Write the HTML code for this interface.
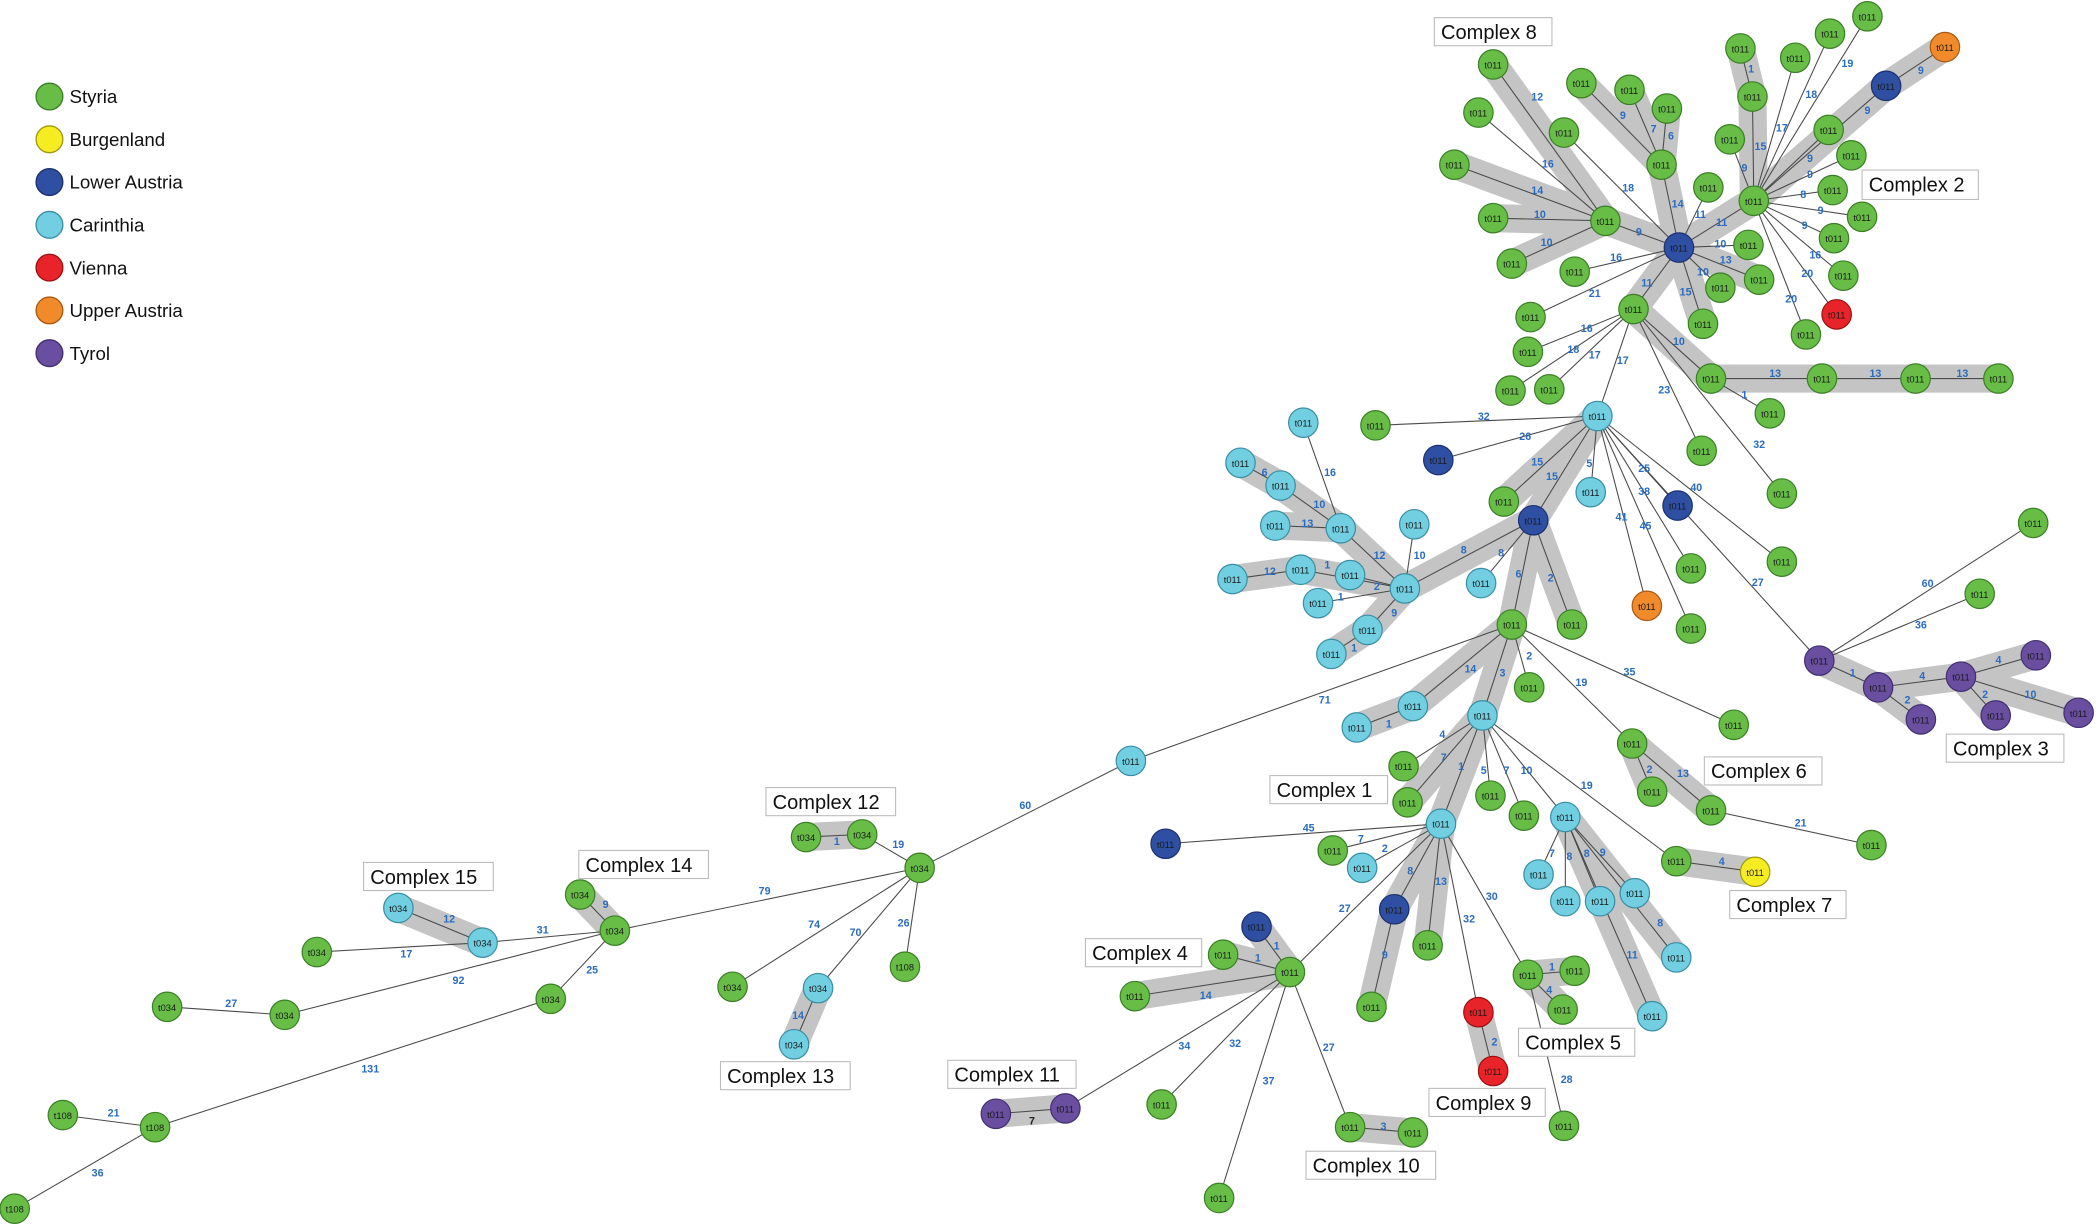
<!DOCTYPE html>
<html><head><meta charset="utf-8"><style>
html,body{margin:0;padding:0;background:#fff}
svg{display:block}
.e line{stroke:#4a4a4a;stroke-width:0.8}
.bd line{stroke:#c4c4c4;stroke-width:21;stroke-linecap:round}
.l text{fill:#2a6cc0;font:bold 8px "Liberation Sans",sans-serif;text-anchor:middle}
.n circle{r:11;stroke-width:0.9}
.n text{font:7px "Liberation Sans",sans-serif;text-anchor:middle;fill:#1a1a1a}
.g{fill:#67bd45;stroke:#3b7f26}.c{fill:#71cfe1;stroke:#3a8ea3}.b{fill:#2f4fa2;stroke:#1d3070}
.r{fill:#e8242a;stroke:#9a1010}.o{fill:#f08a2a;stroke:#a85a10}.y{fill:#f5ec22;stroke:#a09a10}.p{fill:#6a4ea0;stroke:#403070}
.bx rect{fill:#fff;stroke:#bbb;stroke-width:0.8}
.bx text{font:15px "Liberation Sans",sans-serif;fill:#111}
.lg text{font:14px "Liberation Sans",sans-serif;fill:#111}
</style></head><body>
<svg width="2096" height="1225" viewBox="0 0 1568 916" xmlns="http://www.w3.org/2000/svg">
<g class="lg">
<circle cx="37" cy="72" r="10" class="g"/><text x="52" y="77">Styria</text>
<circle cx="37" cy="104" r="10" class="y"/><text x="52" y="109">Burgenland</text>
<circle cx="37" cy="136" r="10" class="b"/><text x="52" y="141">Lower Austria</text>
<circle cx="37" cy="168" r="10" class="c"/><text x="52" y="173">Carinthia</text>
<circle cx="37" cy="200" r="10" class="r"/><text x="52" y="205">Vienna</text>
<circle cx="37" cy="232" r="10" class="o"/><text x="52" y="237">Upper Austria</text>
<circle cx="37" cy="264" r="10" class="p"/><text x="52" y="269">Tyrol</text>
</g>
<g class="bd">
<line x1="1117" y1="48" x2="1201" y2="165"/><line x1="1088" y1="123" x2="1201" y2="165"/><line x1="1117" y1="163" x2="1201" y2="165"/><line x1="1131" y1="197" x2="1201" y2="165"/>
<line x1="1201" y1="165" x2="1256" y2="185"/><line x1="1183" y1="62" x2="1243" y2="123"/><line x1="1219" y1="67" x2="1243" y2="123"/><line x1="1247" y1="81" x2="1243" y2="123"/><line x1="1243" y1="123" x2="1256" y2="185"/>
<line x1="1256" y1="185" x2="1312" y2="150"/><line x1="1302" y1="36" x2="1311" y2="72"/><line x1="1311" y1="72" x2="1312" y2="150"/><line x1="1455" y1="35" x2="1411" y2="64"/><line x1="1411" y1="64" x2="1312" y2="150"/>
<line x1="1256" y1="185" x2="1316" y2="209"/><line x1="1256" y1="185" x2="1274" y2="242"/><line x1="1256" y1="185" x2="1222" y2="231"/>
<line x1="1222" y1="231" x2="1280" y2="283"/><line x1="1280" y1="283" x2="1495" y2="283"/>
<line x1="1195" y1="311" x2="1147" y2="389"/><line x1="1195" y1="311" x2="1125" y2="375"/>
<line x1="928" y1="346" x2="958" y2="363"/><line x1="958" y1="363" x2="1003" y2="395"/><line x1="954" y1="393" x2="1003" y2="395"/><line x1="1003" y1="395" x2="1051" y2="440"/>
<line x1="922" y1="433" x2="973" y2="426"/><line x1="973" y1="426" x2="1051" y2="440"/><line x1="996" y1="489" x2="1023" y2="471"/><line x1="1023" y1="471" x2="1051" y2="440"/>
<line x1="1051" y1="440" x2="1147" y2="389"/><line x1="1147" y1="389" x2="1131" y2="467"/><line x1="1147" y1="389" x2="1176" y2="467"/>
<line x1="1131" y1="467" x2="1109" y2="535"/><line x1="1131" y1="467" x2="1057" y2="528"/><line x1="1015" y1="544" x2="1057" y2="528"/>
<line x1="1109" y1="535" x2="1078" y2="616"/><line x1="1109" y1="535" x2="1053" y2="600"/>
<line x1="1221" y1="556" x2="1236" y2="592"/><line x1="1221" y1="556" x2="1280" y2="606"/>
<line x1="1254" y1="644" x2="1313" y2="652"/>
<line x1="1171" y1="611" x2="1254" y2="716"/><line x1="1171" y1="611" x2="1236" y2="760"/>
<line x1="1078" y1="616" x2="1043" y2="680"/><line x1="1043" y1="680" x2="1026" y2="753"/><line x1="1078" y1="616" x2="1068" y2="707"/>
<line x1="1106" y1="757" x2="1117" y2="801"/><line x1="1178" y1="726" x2="1143" y2="729"/><line x1="1169" y1="755" x2="1143" y2="729"/>
<line x1="940" y1="693" x2="965" y2="727"/><line x1="915" y1="714" x2="965" y2="727"/><line x1="849" y1="745" x2="965" y2="727"/>
<line x1="1010" y1="843" x2="1057" y2="847"/><line x1="745" y1="833" x2="797" y2="829"/>
<line x1="603" y1="626" x2="645" y2="624"/><line x1="612" y1="739" x2="594" y2="781"/><line x1="434" y1="669" x2="460" y2="696"/><line x1="298" y1="679" x2="361" y2="705"/>
<line x1="1361" y1="494" x2="1405" y2="514"/><line x1="1405" y1="514" x2="1467" y2="506"/><line x1="1437" y1="538" x2="1405" y2="514"/><line x1="1467" y1="506" x2="1523" y2="490"/><line x1="1493" y1="535" x2="1467" y2="506"/><line x1="1555" y1="533" x2="1467" y2="506"/>
</g>
<g class="e">
<line x1="1117" y1="48" x2="1201" y2="165"/><line x1="1106" y1="84" x2="1201" y2="165"/><line x1="1088" y1="123" x2="1201" y2="165"/><line x1="1117" y1="163" x2="1201" y2="165"/><line x1="1131" y1="197" x2="1201" y2="165"/>
<line x1="1170" y1="99" x2="1256" y2="185"/><line x1="1183" y1="62" x2="1243" y2="123"/><line x1="1219" y1="67" x2="1243" y2="123"/><line x1="1247" y1="81" x2="1243" y2="123"/><line x1="1243" y1="123" x2="1256" y2="185"/>
<line x1="1201" y1="165" x2="1256" y2="185"/><line x1="1178" y1="203" x2="1256" y2="185"/><line x1="1145" y1="237" x2="1256" y2="185"/><line x1="1278" y1="140" x2="1256" y2="185"/><line x1="1308" y1="183" x2="1256" y2="185"/><line x1="1287" y1="215" x2="1256" y2="185"/><line x1="1316" y1="209" x2="1256" y2="185"/><line x1="1274" y1="242" x2="1256" y2="185"/><line x1="1222" y1="231" x2="1256" y2="185"/><line x1="1312" y1="150" x2="1256" y2="185"/>
<line x1="1302" y1="36" x2="1311" y2="72"/><line x1="1311" y1="72" x2="1312" y2="150"/><line x1="1343" y1="43" x2="1312" y2="150"/><line x1="1369" y1="25" x2="1312" y2="150"/><line x1="1397" y1="12" x2="1312" y2="150"/><line x1="1455" y1="35" x2="1411" y2="64"/><line x1="1411" y1="64" x2="1312" y2="150"/>
<line x1="1368" y1="97" x2="1312" y2="150"/><line x1="1385" y1="116" x2="1312" y2="150"/><line x1="1371" y1="142" x2="1312" y2="150"/><line x1="1393" y1="162" x2="1312" y2="150"/><line x1="1372" y1="178" x2="1312" y2="150"/><line x1="1379" y1="206" x2="1312" y2="150"/><line x1="1374" y1="235" x2="1312" y2="150"/><line x1="1351" y1="250" x2="1312" y2="150"/><line x1="1294" y1="104" x2="1312" y2="150"/>
<line x1="1222" y1="231" x2="1280" y2="283"/><line x1="1280" y1="283" x2="1495" y2="283"/><line x1="1324" y1="309" x2="1280" y2="283"/><line x1="1333" y1="369" x2="1222" y2="231"/><line x1="1273" y1="337" x2="1222" y2="231"/><line x1="1195" y1="311" x2="1222" y2="231"/><line x1="1143" y1="263" x2="1222" y2="231"/><line x1="1130" y1="292" x2="1222" y2="231"/><line x1="1159" y1="291" x2="1222" y2="231"/>
<line x1="1029" y1="318" x2="1195" y2="311"/><line x1="1076" y1="344" x2="1195" y2="311"/><line x1="1147" y1="389" x2="1195" y2="311"/><line x1="1125" y1="375" x2="1195" y2="311"/><line x1="1190" y1="368" x2="1195" y2="311"/><line x1="1255" y1="378" x2="1195" y2="311"/><line x1="1265" y1="425" x2="1195" y2="311"/><line x1="1232" y1="453" x2="1195" y2="311"/><line x1="1265" y1="470" x2="1195" y2="311"/><line x1="1333" y1="420" x2="1195" y2="311"/><line x1="1361" y1="494" x2="1195" y2="311"/>
<line x1="975" y1="316" x2="1003" y2="395"/><line x1="928" y1="346" x2="958" y2="363"/><line x1="958" y1="363" x2="1003" y2="395"/><line x1="954" y1="393" x2="1003" y2="395"/><line x1="1003" y1="395" x2="1051" y2="440"/><line x1="1058" y1="392" x2="1051" y2="440"/>
<line x1="922" y1="433" x2="973" y2="426"/><line x1="973" y1="426" x2="1051" y2="440"/><line x1="1010" y1="430" x2="1051" y2="440"/><line x1="986" y1="451" x2="1051" y2="440"/><line x1="1023" y1="471" x2="1051" y2="440"/><line x1="996" y1="489" x2="1023" y2="471"/>
<line x1="1051" y1="440" x2="1147" y2="389"/><line x1="1108" y1="436" x2="1147" y2="389"/><line x1="1147" y1="389" x2="1131" y2="467"/><line x1="1176" y1="467" x2="1147" y2="389"/>
<line x1="1131" y1="467" x2="1109" y2="535"/><line x1="1144" y1="514" x2="1131" y2="467"/><line x1="1297" y1="542" x2="1131" y2="467"/><line x1="1221" y1="556" x2="1131" y2="467"/><line x1="1221" y1="556" x2="1236" y2="592"/><line x1="1280" y1="606" x2="1221" y2="556"/><line x1="1400" y1="632" x2="1280" y2="606"/>
<line x1="846" y1="569" x2="1131" y2="467"/><line x1="1057" y1="528" x2="1131" y2="467"/><line x1="1015" y1="544" x2="1057" y2="528"/>
<line x1="1109" y1="535" x2="1078" y2="616"/><line x1="1050" y1="573" x2="1109" y2="535"/><line x1="1053" y1="600" x2="1109" y2="535"/><line x1="1115" y1="595" x2="1109" y2="535"/><line x1="1140" y1="610" x2="1109" y2="535"/><line x1="1171" y1="611" x2="1109" y2="535"/><line x1="1254" y1="644" x2="1109" y2="535"/><line x1="1254" y1="644" x2="1313" y2="652"/>
<line x1="1171" y1="611" x2="1151" y2="654"/><line x1="1171" y1="611" x2="1171" y2="674"/><line x1="1171" y1="611" x2="1197" y2="674"/><line x1="1171" y1="611" x2="1223" y2="668"/><line x1="1171" y1="611" x2="1254" y2="716"/><line x1="1171" y1="611" x2="1236" y2="760"/>
<line x1="872" y1="631" x2="1078" y2="616"/><line x1="997" y1="636" x2="1078" y2="616"/><line x1="1019" y1="649" x2="1078" y2="616"/><line x1="1043" y1="680" x2="1078" y2="616"/><line x1="1068" y1="707" x2="1078" y2="616"/><line x1="1026" y1="753" x2="1043" y2="680"/><line x1="1106" y1="757" x2="1078" y2="616"/><line x1="1106" y1="757" x2="1117" y2="801"/><line x1="1143" y1="729" x2="1078" y2="616"/><line x1="1178" y1="726" x2="1143" y2="729"/><line x1="1169" y1="755" x2="1143" y2="729"/><line x1="1170" y1="842" x2="1143" y2="729"/>
<line x1="965" y1="727" x2="1078" y2="616"/><line x1="940" y1="693" x2="965" y2="727"/><line x1="915" y1="714" x2="965" y2="727"/><line x1="849" y1="745" x2="965" y2="727"/><line x1="869" y1="826" x2="965" y2="727"/><line x1="797" y1="829" x2="965" y2="727"/><line x1="912" y1="896" x2="965" y2="727"/><line x1="1010" y1="843" x2="965" y2="727"/><line x1="1010" y1="843" x2="1057" y2="847"/><line x1="745" y1="833" x2="797" y2="829"/>
<line x1="846" y1="569" x2="688" y2="649"/><line x1="603" y1="626" x2="645" y2="624"/><line x1="645" y1="624" x2="688" y2="649"/><line x1="548" y1="738" x2="688" y2="649"/><line x1="612" y1="739" x2="688" y2="649"/><line x1="612" y1="739" x2="594" y2="781"/><line x1="677" y1="723" x2="688" y2="649"/><line x1="460" y1="696" x2="688" y2="649"/>
<line x1="434" y1="669" x2="460" y2="696"/><line x1="298" y1="679" x2="361" y2="705"/><line x1="361" y1="705" x2="460" y2="696"/><line x1="237" y1="712" x2="361" y2="705"/><line x1="213" y1="759" x2="460" y2="696"/><line x1="125" y1="753" x2="213" y2="759"/><line x1="412" y1="747" x2="460" y2="696"/><line x1="116" y1="843" x2="412" y2="747"/><line x1="47" y1="834" x2="116" y2="843"/><line x1="11" y1="904" x2="116" y2="843"/>
<line x1="1361" y1="494" x2="1521" y2="391"/><line x1="1361" y1="494" x2="1481" y2="444"/><line x1="1361" y1="494" x2="1405" y2="514"/><line x1="1405" y1="514" x2="1467" y2="506"/><line x1="1437" y1="538" x2="1405" y2="514"/><line x1="1467" y1="506" x2="1523" y2="490"/><line x1="1493" y1="535" x2="1467" y2="506"/><line x1="1555" y1="533" x2="1467" y2="506"/>
</g>
<g class="l">
<text x="1150" y="75">12</text><text x="1158" y="125">16</text><text x="1150" y="145">14</text><text x="1152" y="163">10</text><text x="1157" y="184">10</text>
<text x="1218" y="143">18</text><text x="1214" y="89">9</text><text x="1237" y="99">7</text><text x="1250" y="104">6</text><text x="1255" y="155">14</text><text x="1226" y="176">9</text>
<text x="1209" y="195">16</text><text x="1193" y="222">21</text><text x="1272" y="163">11</text><text x="1287" y="185">10</text><text x="1274" y="206">10</text><text x="1291" y="197">13</text><text x="1261" y="221">15</text><text x="1232" y="214">11</text><text x="1288" y="169">11</text>
<text x="1310" y="54">1</text><text x="1317" y="112">15</text><text x="1333" y="98">17</text><text x="1355" y="73">18</text><text x="1382" y="50">19</text><text x="1437" y="55">9</text><text x="1397" y="85">9</text>
<text x="1305" y="128">9</text><text x="1354" y="121">9</text><text x="1354" y="133">9</text><text x="1349" y="148">8</text><text x="1362" y="160">9</text><text x="1350" y="171">9</text><text x="1358" y="193">16</text><text x="1352" y="207">20</text><text x="1340" y="226">20</text>
<text x="1256" y="258">10</text><text x="1328" y="282">13</text><text x="1403" y="282">13</text><text x="1468" y="282">13</text><text x="1305" y="298">1</text><text x="1316" y="335">32</text><text x="1245" y="294">23</text><text x="1214" y="272">17</text><text x="1187" y="248">16</text><text x="1177" y="264">18</text><text x="1193" y="268">17</text>
<text x="1110" y="314">32</text><text x="1141" y="329">26</text><text x="1150" y="348">15</text><text x="1161" y="359">15</text><text x="1189" y="349">5</text><text x="1230" y="353">25</text><text x="1230" y="370">38</text><text x="1213" y="389">41</text><text x="1231" y="396">45</text><text x="1269" y="367">40</text><text x="1315" y="438">27</text>
<text x="995" y="356">16</text><text x="946" y="356">6</text><text x="987" y="380">10</text><text x="978" y="394">13</text><text x="1032" y="418">12</text><text x="1062" y="418">10</text><text x="950" y="430">12</text><text x="993" y="425">1</text><text x="1030" y="441">2</text><text x="1003" y="449">1</text><text x="1043" y="461">9</text><text x="1013" y="487">1</text>
<text x="1095" y="414">8</text><text x="1123" y="416">8</text><text x="1136" y="432">6</text><text x="1160" y="435">2</text><text x="1124" y="506">3</text><text x="1144" y="493">2</text><text x="1219" y="505">35</text><text x="1183" y="513">19</text><text x="1234" y="578">2</text><text x="1259" y="581">13</text><text x="1347" y="618">21</text>
<text x="991" y="526">71</text><text x="1100" y="503">14</text><text x="1039" y="544">1</text><text x="1079" y="552">4</text><text x="1080" y="569">7</text><text x="1093" y="576">1</text><text x="1110" y="579">5</text><text x="1127" y="579">7</text><text x="1142" y="579">10</text><text x="1187" y="590">19</text><text x="1288" y="647">4</text>
<text x="1161" y="641">7</text><text x="1174" y="643">8</text><text x="1187" y="641">8</text><text x="1199" y="640">9</text><text x="1242" y="693">8</text><text x="1221" y="717">11</text>
<text x="979" y="622">45</text><text x="1018" y="630">7</text><text x="1036" y="637">2</text><text x="1055" y="654">8</text><text x="1078" y="662">13</text><text x="1036" y="717">9</text><text x="1099" y="690">32</text><text x="1118" y="782">2</text><text x="1116" y="673">30</text><text x="1161" y="726">1</text><text x="1159" y="743">4</text><text x="1172" y="810">28</text>
<text x="1006" y="682">27</text><text x="955" y="710">1</text><text x="941" y="719">1</text><text x="902" y="747">14</text><text x="886" y="785">34</text><text x="924" y="783">32</text><text x="949" y="811">37</text><text x="994" y="786">27</text><text x="1035" y="845">3</text><text x="772" y="841" style="fill:#222">7</text>
<text x="767" y="605">60</text><text x="626" y="632">1</text><text x="672" y="634">19</text><text x="609" y="694">74</text><text x="640" y="700">70</text><text x="597" y="762">14</text><text x="676" y="693">26</text><text x="572" y="669">79</text>
<text x="453" y="679">9</text><text x="336" y="690">12</text><text x="406" y="698">31</text><text x="304" y="716">17</text><text x="343" y="736">92</text><text x="173" y="753">27</text><text x="443" y="728">25</text><text x="277" y="802">131</text><text x="85" y="835">21</text><text x="73" y="880">36</text>
<text x="1442" y="439">60</text><text x="1437" y="470">36</text><text x="1386" y="506">1</text><text x="1438" y="508">4</text><text x="1427" y="526">2</text><text x="1495" y="496">4</text><text x="1485" y="522">2</text><text x="1519" y="522">10</text>
</g>
<g class="n">
<circle cx="1117" cy="48" class="g"/><circle cx="1106" cy="84" class="g"/><circle cx="1088" cy="123" class="g"/><circle cx="1117" cy="163" class="g"/><circle cx="1131" cy="197" class="g"/><circle cx="1170" cy="99" class="g"/><circle cx="1183" cy="62" class="g"/><circle cx="1219" cy="67" class="g"/><circle cx="1247" cy="81" class="g"/><circle cx="1243" cy="123" class="g"/><circle cx="1201" cy="165" class="g"/><circle cx="1178" cy="203" class="g"/><circle cx="1145" cy="237" class="g"/><circle cx="1278" cy="140" class="g"/><circle cx="1308" cy="183" class="g"/><circle cx="1287" cy="215" class="g"/><circle cx="1316" cy="209" class="g"/><circle cx="1274" cy="242" class="g"/><circle cx="1222" cy="231" class="g"/><circle cx="1256" cy="185" class="b"/>
<circle cx="1302" cy="36" class="g"/><circle cx="1311" cy="72" class="g"/><circle cx="1343" cy="43" class="g"/><circle cx="1369" cy="25" class="g"/><circle cx="1397" cy="12" class="g"/><circle cx="1455" cy="35" class="o"/><circle cx="1411" cy="64" class="b"/><circle cx="1368" cy="97" class="g"/><circle cx="1385" cy="116" class="g"/><circle cx="1371" cy="142" class="g"/><circle cx="1393" cy="162" class="g"/><circle cx="1372" cy="178" class="g"/><circle cx="1379" cy="206" class="g"/><circle cx="1374" cy="235" class="r"/><circle cx="1351" cy="250" class="g"/><circle cx="1294" cy="104" class="g"/><circle cx="1312" cy="150" class="g"/>
<circle cx="1280" cy="283" class="g"/><circle cx="1363" cy="283" class="g"/><circle cx="1433" cy="283" class="g"/><circle cx="1495" cy="283" class="g"/><circle cx="1324" cy="309" class="g"/><circle cx="1333" cy="369" class="g"/><circle cx="1273" cy="337" class="g"/><circle cx="1143" cy="263" class="g"/><circle cx="1130" cy="292" class="g"/><circle cx="1159" cy="291" class="g"/>
<circle cx="1029" cy="318" class="g"/><circle cx="1076" cy="344" class="b"/><circle cx="1125" cy="375" class="g"/><circle cx="1190" cy="368" class="c"/><circle cx="1255" cy="378" class="b"/><circle cx="1265" cy="425" class="g"/><circle cx="1232" cy="453" class="o"/><circle cx="1265" cy="470" class="g"/><circle cx="1333" cy="420" class="g"/><circle cx="1195" cy="311" class="c"/>
<circle cx="975" cy="316" class="c"/><circle cx="928" cy="346" class="c"/><circle cx="958" cy="363" class="c"/><circle cx="954" cy="393" class="c"/><circle cx="1003" cy="395" class="c"/><circle cx="1058" cy="392" class="c"/><circle cx="922" cy="433" class="c"/><circle cx="973" cy="426" class="c"/><circle cx="1010" cy="430" class="c"/><circle cx="986" cy="451" class="c"/><circle cx="1023" cy="471" class="c"/><circle cx="996" cy="489" class="c"/><circle cx="1051" cy="440" class="c"/><circle cx="1108" cy="436" class="c"/><circle cx="1147" cy="389" class="b"/><circle cx="1176" cy="467" class="g"/><circle cx="1131" cy="467" class="g"/>
<circle cx="1144" cy="514" class="g"/><circle cx="1297" cy="542" class="g"/><circle cx="1221" cy="556" class="g"/><circle cx="1236" cy="592" class="g"/><circle cx="1280" cy="606" class="g"/><circle cx="1400" cy="632" class="g"/><circle cx="846" cy="569" class="c"/><circle cx="1057" cy="528" class="c"/><circle cx="1015" cy="544" class="c"/><circle cx="1109" cy="535" class="c"/>
<circle cx="1050" cy="573" class="g"/><circle cx="1053" cy="600" class="g"/><circle cx="1115" cy="595" class="g"/><circle cx="1140" cy="610" class="g"/><circle cx="1254" cy="644" class="g"/><circle cx="1313" cy="652" class="y"/><circle cx="1171" cy="611" class="c"/><circle cx="1151" cy="654" class="c"/><circle cx="1171" cy="674" class="c"/><circle cx="1197" cy="674" class="c"/><circle cx="1223" cy="668" class="c"/><circle cx="1254" cy="716" class="c"/><circle cx="1236" cy="760" class="c"/>
<circle cx="872" cy="631" class="b"/><circle cx="997" cy="636" class="g"/><circle cx="1019" cy="649" class="c"/><circle cx="1043" cy="680" class="b"/><circle cx="1068" cy="707" class="g"/><circle cx="1026" cy="753" class="g"/><circle cx="1106" cy="757" class="r"/><circle cx="1117" cy="801" class="r"/><circle cx="1143" cy="729" class="g"/><circle cx="1178" cy="726" class="g"/><circle cx="1169" cy="755" class="g"/><circle cx="1170" cy="842" class="g"/><circle cx="1078" cy="616" class="c"/>
<circle cx="940" cy="693" class="b"/><circle cx="915" cy="714" class="g"/><circle cx="849" cy="745" class="g"/><circle cx="869" cy="826" class="g"/><circle cx="912" cy="896" class="g"/><circle cx="1010" cy="843" class="g"/><circle cx="1057" cy="847" class="g"/><circle cx="965" cy="727" class="g"/><circle cx="745" cy="833" class="p"/><circle cx="797" cy="829" class="p"/>
<circle cx="1361" cy="494" class="p"/><circle cx="1521" cy="391" class="g"/><circle cx="1481" cy="444" class="g"/><circle cx="1405" cy="514" class="p"/><circle cx="1467" cy="506" class="p"/><circle cx="1437" cy="538" class="p"/><circle cx="1523" cy="490" class="p"/><circle cx="1493" cy="535" class="p"/><circle cx="1555" cy="533" class="p"/>
<circle cx="688" cy="649" class="g"/><circle cx="603" cy="626" class="g"/><circle cx="645" cy="624" class="g"/><circle cx="548" cy="738" class="g"/><circle cx="612" cy="739" class="c"/><circle cx="594" cy="781" class="c"/><circle cx="677" cy="723" class="g"/><circle cx="460" cy="696" class="g"/><circle cx="434" cy="669" class="g"/><circle cx="298" cy="679" class="c"/><circle cx="361" cy="705" class="c"/><circle cx="237" cy="712" class="g"/><circle cx="213" cy="759" class="g"/><circle cx="125" cy="753" class="g"/><circle cx="412" cy="747" class="g"/><circle cx="116" cy="843" class="g"/><circle cx="47" cy="834" class="g"/><circle cx="11" cy="904" class="g"/>
</g>
<g class="n">
<text x="1117" y="51">t011</text><text x="1106" y="87">t011</text><text x="1088" y="126">t011</text><text x="1117" y="166">t011</text><text x="1131" y="200">t011</text><text x="1170" y="102">t011</text><text x="1183" y="65">t011</text><text x="1219" y="70">t011</text><text x="1247" y="84">t011</text><text x="1243" y="126">t011</text><text x="1201" y="168">t011</text><text x="1178" y="206">t011</text><text x="1145" y="240">t011</text><text x="1278" y="143">t011</text><text x="1308" y="186">t011</text><text x="1287" y="218">t011</text><text x="1316" y="212">t011</text><text x="1274" y="245">t011</text><text x="1222" y="234">t011</text><text x="1256" y="188">t011</text>
<text x="1302" y="39">t011</text><text x="1311" y="75">t011</text><text x="1343" y="46">t011</text><text x="1369" y="28">t011</text><text x="1397" y="15">t011</text><text x="1455" y="38">t011</text><text x="1411" y="67">t011</text><text x="1368" y="100">t011</text><text x="1385" y="119">t011</text><text x="1371" y="145">t011</text><text x="1393" y="165">t011</text><text x="1372" y="181">t011</text><text x="1379" y="209">t011</text><text x="1374" y="238">t011</text><text x="1351" y="253">t011</text><text x="1294" y="107">t011</text><text x="1312" y="153">t011</text>
<text x="1280" y="286">t011</text><text x="1363" y="286">t011</text><text x="1433" y="286">t011</text><text x="1495" y="286">t011</text><text x="1324" y="312">t011</text><text x="1333" y="372">t011</text><text x="1273" y="340">t011</text><text x="1143" y="266">t011</text><text x="1130" y="295">t011</text><text x="1159" y="294">t011</text>
<text x="1029" y="321">t011</text><text x="1076" y="347">t011</text><text x="1125" y="378">t011</text><text x="1190" y="371">t011</text><text x="1255" y="381">t011</text><text x="1265" y="428">t011</text><text x="1232" y="456">t011</text><text x="1265" y="473">t011</text><text x="1333" y="423">t011</text><text x="1195" y="314">t011</text>
<text x="975" y="319">t011</text><text x="928" y="349">t011</text><text x="958" y="366">t011</text><text x="954" y="396">t011</text><text x="1003" y="398">t011</text><text x="1058" y="395">t011</text><text x="922" y="436">t011</text><text x="973" y="429">t011</text><text x="1010" y="433">t011</text><text x="986" y="454">t011</text><text x="1023" y="474">t011</text><text x="996" y="492">t011</text><text x="1051" y="443">t011</text><text x="1108" y="439">t011</text><text x="1147" y="392">t011</text><text x="1176" y="470">t011</text><text x="1131" y="470">t011</text>
<text x="1144" y="517">t011</text><text x="1297" y="545">t011</text><text x="1221" y="559">t011</text><text x="1236" y="595">t011</text><text x="1280" y="609">t011</text><text x="1400" y="635">t011</text><text x="846" y="572">t011</text><text x="1057" y="531">t011</text><text x="1015" y="547">t011</text><text x="1109" y="538">t011</text>
<text x="1050" y="576">t011</text><text x="1053" y="603">t011</text><text x="1115" y="598">t011</text><text x="1140" y="613">t011</text><text x="1254" y="647">t011</text><text x="1313" y="655">t011</text><text x="1171" y="614">t011</text><text x="1151" y="657">t011</text><text x="1171" y="677">t011</text><text x="1197" y="677">t011</text><text x="1223" y="671">t011</text><text x="1254" y="719">t011</text><text x="1236" y="763">t011</text>
<text x="872" y="634">t011</text><text x="997" y="639">t011</text><text x="1019" y="652">t011</text><text x="1043" y="683">t011</text><text x="1068" y="710">t011</text><text x="1026" y="756">t011</text><text x="1106" y="760">t011</text><text x="1117" y="804">t011</text><text x="1143" y="732">t011</text><text x="1178" y="729">t011</text><text x="1169" y="758">t011</text><text x="1170" y="845">t011</text><text x="1078" y="619">t011</text>
<text x="940" y="696">t011</text><text x="915" y="717">t011</text><text x="849" y="748">t011</text><text x="869" y="829">t011</text><text x="912" y="899">t011</text><text x="1010" y="846">t011</text><text x="1057" y="850">t011</text><text x="965" y="730">t011</text><text x="745" y="836">t011</text><text x="797" y="832">t011</text>
<text x="1361" y="497">t011</text><text x="1521" y="394">t011</text><text x="1481" y="447">t011</text><text x="1405" y="517">t011</text><text x="1467" y="509">t011</text><text x="1437" y="541">t011</text><text x="1523" y="493">t011</text><text x="1493" y="538">t011</text><text x="1555" y="536">t011</text>
<text x="688" y="652">t034</text><text x="603" y="629">t034</text><text x="645" y="627">t034</text><text x="548" y="741">t034</text><text x="612" y="742">t034</text><text x="594" y="784">t034</text><text x="677" y="726">t108</text><text x="460" y="699">t034</text><text x="434" y="672">t034</text><text x="298" y="682">t034</text><text x="361" y="708">t034</text><text x="237" y="715">t034</text><text x="213" y="762">t034</text><text x="125" y="756">t034</text><text x="412" y="750">t034</text><text x="116" y="846">t108</text><text x="47" y="837">t108</text><text x="11" y="907">t108</text>
</g>
<g class="bx">
<rect x="1073" y="13" width="88" height="21"/><text x="1078" y="29">Complex 8</text>
<rect x="1393" y="127" width="87" height="22"/><text x="1398" y="143">Complex 2</text>
<rect x="1275" y="566" width="88" height="21"/><text x="1280" y="582">Complex 6</text>
<rect x="1456" y="549" width="88" height="21"/><text x="1461" y="565">Complex 3</text>
<rect x="950" y="580" width="88" height="21"/><text x="955" y="596">Complex 1</text>
<rect x="1294" y="666" width="87" height="21"/><text x="1299" y="682">Complex 7</text>
<rect x="812" y="702" width="87" height="21"/><text x="817" y="718">Complex 4</text>
<rect x="1136" y="769" width="87" height="21"/><text x="1141" y="785">Complex 5</text>
<rect x="1069" y="814" width="87" height="21"/><text x="1074" y="830">Complex 9</text>
<rect x="977" y="861" width="97" height="21"/><text x="982" y="877">Complex 10</text>
<rect x="709" y="793" width="96" height="21"/><text x="714" y="809">Complex 11</text>
<rect x="539" y="794" width="97" height="21"/><text x="544" y="810">Complex 13</text>
<rect x="573" y="589" width="97" height="21"/><text x="578" y="605">Complex 12</text>
<rect x="433" y="636" width="97" height="21"/><text x="438" y="652">Complex 14</text>
<rect x="272" y="645" width="97" height="21"/><text x="277" y="661">Complex 15</text>
</g>
</svg>
</body></html>
